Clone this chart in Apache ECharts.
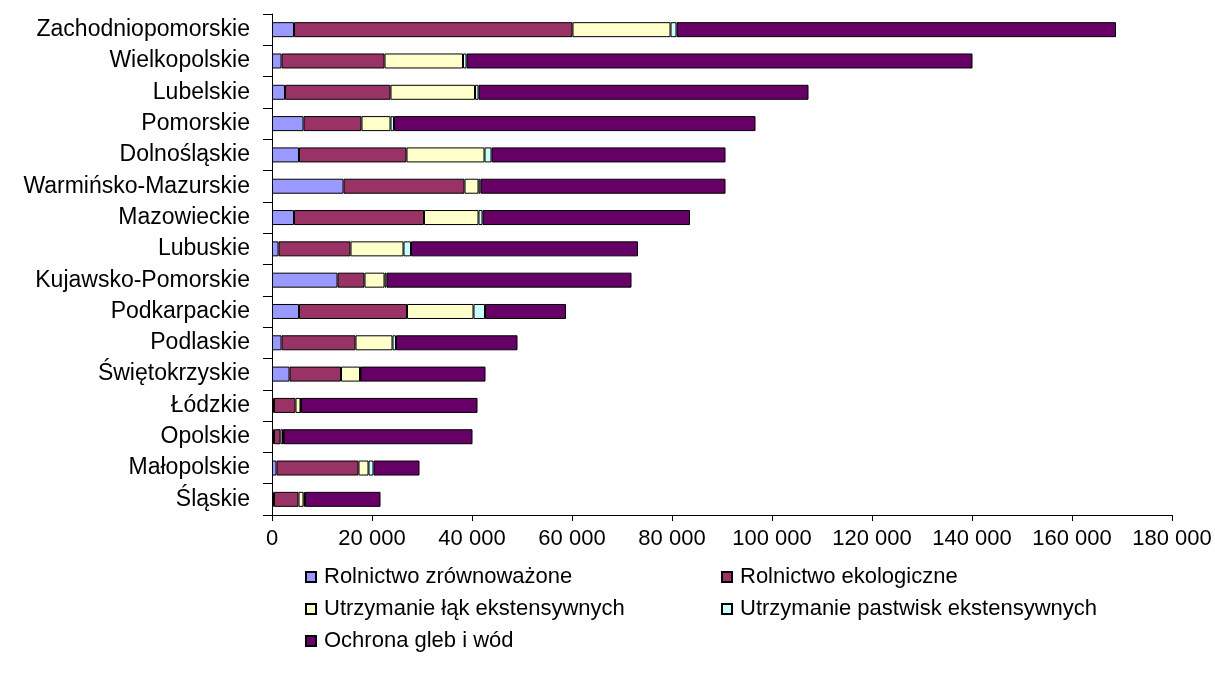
<!DOCTYPE html>
<html>
<head>
<meta charset="utf-8">
<script src="https://cdn.jsdelivr.net/npm/echarts@6/dist/echarts.min.js"></script>
<style>
  html, body { margin: 0; padding: 0; background: #fff; }
  #chart { width: 1215px; height: 689px; }
</style>
</head>
<body>
<div id="chart"></div>
<script>
// województwa, od góry do dołu
const regions = [
  'Zachodniopomorskie', 'Wielkopolskie', 'Lubelskie', 'Pomorskie', 'Dolnośląskie',
  'Warmińsko-Mazurskie', 'Mazowieckie', 'Lubuskie', 'Kujawsko-Pomorskie', 'Podkarpackie',
  'Podlaskie', 'Świętokrzyskie', 'Łódzkie', 'Opolskie', 'Małopolskie', 'Śląskie'
];

const seriesNames = [
  'Rolnictwo zrównoważone',
  'Rolnictwo ekologiczne',
  'Utrzymanie łąk ekstensywnych',
  'Utrzymanie pastwisk ekstensywnych',
  'Ochrona gleb i wód'
];

const rolnictwoZrownowazone = [4400, 1900, 2600, 6300, 5400, 14300, 4400, 1300, 13100, 5400, 1900, 3500, 400, 400, 900, 400];
const rolnictwoEkologiczne  = [55700, 20600, 21100, 11600, 21500, 24200, 26000, 14400, 5400, 21600, 14800, 10300, 4300, 1300, 16400, 4900];
const lakiEkstensywne       = [19600, 15700, 16900, 5800, 15600, 2800, 10900, 10600, 4000, 13300, 7400, 3800, 1000, 500, 2000, 1000];
const pastwiskaEkstensywne  = [1200, 700, 700, 700, 1400, 400, 800, 1500, 400, 2300, 700, 100, 100, 100, 1000, 300];
const ochronaGlebIWod       = [87900, 101200, 66000, 72300, 46800, 49000, 41500, 45400, 49000, 16200, 24300, 25000, 35300, 37800, 9200, 15100];

const xTicks = { min: 0, max: 180000, interval: 20000 };

const colors = ['#9999FF', '#993366', '#FFFFCC', '#CCFFFF', '#660066'];
const values = [rolnictwoZrownowazone, rolnictwoEkologiczne, lakiEkstensywne, pastwiskaEkstensywne, ochronaGlebIWod];

const FONT = '"Liberation Sans", Arial, sans-serif';

function fmt(v) {
  return String(v).replace(/\B(?=(\d{3})+(?!\d))/g, ' ');
}

// legenda w dwóch kolumnach, jak w oryginale
const legendPos = [
  { left: 305, top: 566 },
  { left: 721, top: 566 },
  { left: 305, top: 598 },
  { left: 721, top: 598 },
  { left: 305, top: 630 }
];

const chart = echarts.init(document.getElementById('chart'), null, { renderer: 'canvas' });

chart.setOption({
  backgroundColor: '#fff',
  animation: false,
  textStyle: { fontFamily: FONT, color: '#000' },
  grid: { left: 272, right: 43, top: 14, bottom: 174, containLabel: false },
  legend: seriesNames.map((name, i) => ({
    data: [name],
    left: legendPos[i].left,
    top: legendPos[i].top,
    padding: 0,
    icon: 'rect',
    itemWidth: 10,
    itemHeight: 10,
    selectedMode: false,
    textStyle: { fontFamily: FONT, fontSize: 22, color: '#000', padding: [0, 0, 0, 3] }
  })),
  xAxis: {
    type: 'value',
    min: xTicks.min,
    max: xTicks.max,
    interval: xTicks.interval,
    axisLine: { show: true, lineStyle: { color: '#000', width: 1 } },
    axisTick: { show: true, length: 6, lineStyle: { color: '#000' } },
    axisLabel: { fontSize: 22, color: '#000', margin: 13, formatter: fmt, fontFamily: FONT },
    splitLine: { show: false }
  },
  yAxis: {
    type: 'category',
    data: regions,
    inverse: true,
    axisLine: { show: true, lineStyle: { color: '#000', width: 1 } },
    axisTick: { show: true, length: 9, lineStyle: { color: '#000' } },
    axisLabel: { fontSize: 23, color: '#000', margin: 22, fontFamily: FONT }
  },
  series: seriesNames.map((name, i) => ({
    name,
    type: 'bar',
    stack: 'total',
    data: values[i],
    barWidth: 15,
    itemStyle: { color: colors[i], borderColor: '#000', borderWidth: 1 }
  }))
});
</script>
</body>
</html>
